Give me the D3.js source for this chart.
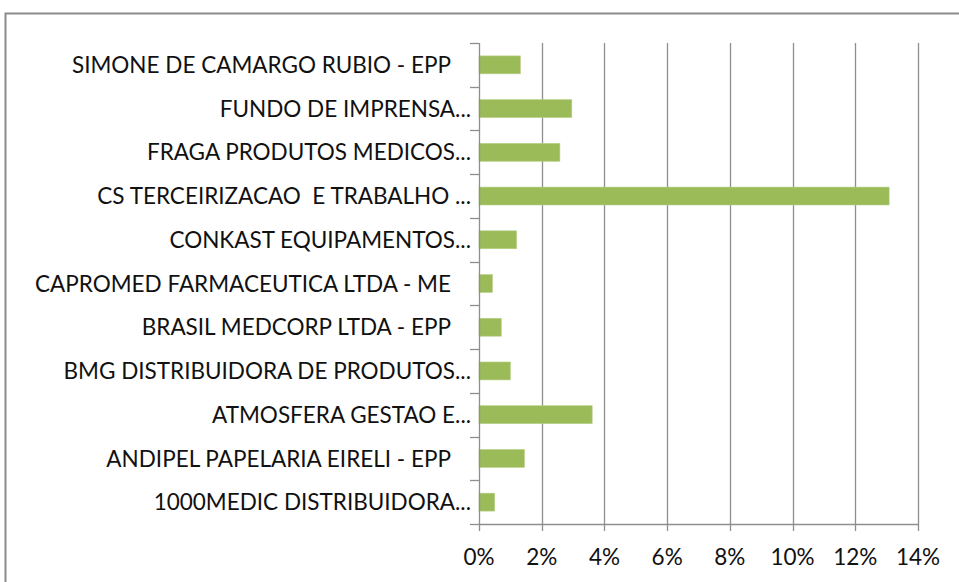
<!DOCTYPE html>
<html>
<head>
<meta charset="utf-8">
<script src="https://cdn.jsdelivr.net/npm/d3@7"></script>
<style>
  body { margin: 0; background: #fff; }
  svg { display: block; }
  text { white-space: pre; }
</style>
</head>
<body>
<div id="chart"></div>
<script>
// categories, top to bottom as shown
const categories = [
  "SIMONE DE CAMARGO RUBIO - EPP",
  "FUNDO DE IMPRENSA...",
  "FRAGA PRODUTOS MEDICOS...",
  "CS TERCEIRIZACAO  E TRABALHO ...",
  "CONKAST EQUIPAMENTOS...",
  "CAPROMED FARMACEUTICA LTDA - ME",
  "BRASIL MEDCORP LTDA - EPP",
  "BMG DISTRIBUIDORA DE PRODUTOS...",
  "ATMOSFERA GESTAO E...",
  "ANDIPEL PAPELARIA EIRELI - EPP",
  "1000MEDIC DISTRIBUIDORA..."
];
// share in percent
const values = [1.32, 2.96, 2.58, 13.08, 1.20, 0.43, 0.71, 1.00, 3.61, 1.45, 0.50];
const xTicks = [0, 2, 4, 6, 8, 10, 12, 14];

const W = 959, H = 582;
const plot = { left: 479, right: 918, top: 43, bottom: 524 };
const font = "Lato, 'Open Sans', sans-serif";

const svg = d3.select("#chart").append("svg")
  .attr("width", W)
  .attr("height", H);

// outer frame (runs off the right and bottom edges)
svg.append("rect")
  .attr("x", 5.5)
  .attr("y", 13.5)
  .attr("width", W + 20)
  .attr("height", H + 20)
  .attr("fill", "#fff")
  .attr("stroke", "#8c8c8c")
  .attr("stroke-width", 2);

const x = d3.scaleLinear().domain([0, 14]).range([plot.left, plot.right]);
const y = d3.scaleBand()
  .domain(categories)
  .range([plot.top, plot.bottom])
  .paddingInner(0.59)
  .paddingOuter(0.295);

// vertical gridlines
svg.append("g")
  .selectAll("line")
  .data(xTicks.slice(1))
  .join("line")
  .attr("x1", (d) => Math.round(x(d)) + 0.5)
  .attr("x2", (d) => Math.round(x(d)) + 0.5)
  .attr("y1", plot.top)
  .attr("y2", plot.bottom)
  .attr("stroke", "#8e8e8e")
  .attr("stroke-width", 1.3);

// bars
svg.append("g")
  .selectAll("rect")
  .data(values)
  .join("rect")
  .attr("x", x(0))
  .attr("y", (d, i) => y(categories[i]))
  .attr("width", (d) => x(d) - x(0))
  .attr("height", y.bandwidth())
  .attr("fill", "#9bbb59")
  .attr("stroke", "#b8d08a")
  .attr("stroke-width", 0.6);

// category axis: line plus ticks at band boundaries
const yAxis = svg.append("g");
yAxis.append("line")
  .attr("x1", x(0) + 0.5).attr("x2", x(0) + 0.5)
  .attr("y1", plot.top).attr("y2", plot.bottom)
  .attr("stroke", "#8e8e8e").attr("stroke-width", 1.3);
yAxis.selectAll(".ytick")
  .data(d3.range(categories.length + 1))
  .join("line")
  .attr("class", "ytick")
  .attr("x1", x(0) - 9)
  .attr("x2", x(0))
  .attr("y1", (i) => Math.round(plot.top + i * y.step()) + 0.5)
  .attr("y2", (i) => Math.round(plot.top + i * y.step()) + 0.5)
  .attr("stroke", "#8e8e8e").attr("stroke-width", 1.3);

// category labels (full names carry trailing space, so they sit a bit further left)
yAxis.selectAll(".ylabel")
  .data(categories)
  .join("text")
  .attr("class", "ylabel")
  .attr("x", (d) => d.endsWith("...") ? 471 : 451)
  .attr("y", (d) => y(d) + y.bandwidth() / 2)
  .attr("dy", "0.36em")
  .attr("text-anchor", "end")
  .style("font-family", font)
  .style("font-size", "22.5px")
  .style("fill", "#111")
  .text((d) => d);

// value axis
const xAxis = svg.append("g");
xAxis.append("line")
  .attr("x1", plot.left).attr("x2", plot.right + 0.5)
  .attr("y1", plot.bottom + 0.5).attr("y2", plot.bottom + 0.5)
  .attr("stroke", "#8e8e8e").attr("stroke-width", 1.3);
xAxis.selectAll(".xtick")
  .data(xTicks)
  .join("line")
  .attr("class", "xtick")
  .attr("x1", (d) => Math.round(x(d)) + 0.5)
  .attr("x2", (d) => Math.round(x(d)) + 0.5)
  .attr("y1", plot.bottom)
  .attr("y2", plot.bottom + 7)
  .attr("stroke", "#8e8e8e").attr("stroke-width", 1.3);
xAxis.selectAll(".xlabel")
  .data(xTicks)
  .join("text")
  .attr("class", "xlabel")
  .attr("x", (d) => x(d))
  .attr("y", 565)
  .attr("text-anchor", "middle")
  .style("font-family", font)
  .style("font-size", "22.5px")
  .style("fill", "#111")
  .text((d) => d + "%");
</script>
</body>
</html>
